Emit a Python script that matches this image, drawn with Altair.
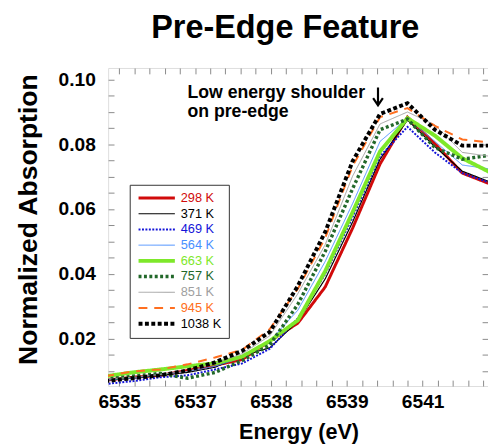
import pandas as pd
import altair as alt

# ---------------- data ----------------
series = ["298 K", "371 K", "469 K", "564 K", "663 K", "757 K", "851 K", "945 K", "1038 K"]
colors = ["#d10a0a", "#000000", "#1414d8", "#4a90ff", "#7ee82a", "#22682a", "#a0a0a0", "#ff6f20", "#000000"]
widths = [3, 1.2, 2, 1, 4, 3.5, 1, 2, 4]
dashes = [[1, 0], [1, 0], [2, 1.5], [1, 0], [1, 0], [3, 2.5], [1, 0], [9, 7], [4, 2.5]]

energy = [6535.06, 6535.53, 6536.00, 6536.47, 6536.94, 6537.41, 6537.88, 6538.36,
          6538.83, 6539.30, 6539.77, 6540.24, 6540.71, 6541.18, 6541.65]

abs_298 = [0.0071, 0.0080, 0.0086, 0.0101, 0.0117, 0.0135, 0.0192, 0.0247, 0.0359, 0.0541, 0.0739, 0.0884, 0.0802, 0.0711, 0.0678]
abs_371 = [0.0071, 0.0077, 0.0086, 0.0095, 0.0111, 0.0147, 0.0171, 0.0253, 0.0384, 0.0560, 0.0754, 0.0875, 0.0793, 0.0717, 0.0684]
abs_469 = [0.0059, 0.0068, 0.0080, 0.0086, 0.0104, 0.0123, 0.0168, 0.0262, 0.0399, 0.0575, 0.0763, 0.0854, 0.0775, 0.0711, 0.0681]
abs_564 = [0.0071, 0.0077, 0.0089, 0.0098, 0.0114, 0.0141, 0.0192, 0.0287, 0.0438, 0.0617, 0.0809, 0.0881, 0.0809, 0.0736, 0.0724]
abs_663 = [0.0083, 0.0095, 0.0104, 0.0114, 0.0123, 0.0144, 0.0192, 0.0256, 0.0408, 0.0590, 0.0778, 0.0881, 0.0827, 0.0757, 0.0714]
abs_757 = [0.0074, 0.0083, 0.0092, 0.0077, 0.0095, 0.0132, 0.0180, 0.0305, 0.0469, 0.0663, 0.0845, 0.0878, 0.0790, 0.0754, 0.0766]
abs_851 = [0.0074, 0.0080, 0.0089, 0.0098, 0.0123, 0.0153, 0.0208, 0.0338, 0.0490, 0.0702, 0.0863, 0.0900, 0.0860, 0.0775, 0.0763]
abs_945 = [0.0083, 0.0098, 0.0104, 0.0120, 0.0141, 0.0165, 0.0229, 0.0353, 0.0511, 0.0733, 0.0884, 0.0912, 0.0857, 0.0815, 0.0806]
abs_1038 = [0.0068, 0.0077, 0.0086, 0.0101, 0.0126, 0.0162, 0.0220, 0.0362, 0.0529, 0.0748, 0.0894, 0.0927, 0.0845, 0.0796, 0.0796]

x_major = [6535.3, 6536.6, 6537.9, 6539.2, 6540.5]
x_tick_labels = ["6535", "6537", "6538", "6539", "6541"]
y_major = [0.02, 0.04, 0.06, 0.08, 0.10]
y_tick_labels = ["0.02", "0.04", "0.06", "0.08", "0.10"]

note_x = [6536.47]
note_y = [0.0942]
note_text = ["Low energy shoulder\non pre-edge"]
arrow_x = [6539.735]
arrow_y = [0.0948]

x_domain = [6535.11, 6541.62]
y_domain = [0.0053, 0.1036]

# ---------------- tables ----------------
all_abs = [abs_298, abs_371, abs_469, abs_564, abs_663, abs_757, abs_851, abs_945, abs_1038]
rows = []
for s, vals in zip(series, all_abs):
    for e, v in zip(energy, vals):
        rows.append({"series": s, "energy": e, "absorption": v})
df = pd.DataFrame(rows)

# minor ticks: 5 intervals per major step
x_step = (x_major[1] - x_major[0]) / 5
x_ticks = [round(x_major[0] + x_step * j, 3) for j in range(25)]
y_ticks = [round(0.01 + 0.005 * j, 4) for j in range(19)]


def label_expr(values, labels, tol):
    expr = "''"
    for v, lab in reversed(list(zip(values, labels))):
        expr = f"abs(datum.value - {v}) < {tol} ? '{lab}' : ({expr})"
    return expr


FONT = "Liberation Sans"
TICK = 6
TICK_COLOR = "#8a8a8a"

x_axis = alt.Axis(orient="bottom", values=x_ticks, labelExpr=label_expr(x_major, x_tick_labels, 0.01),
                  tickSize=TICK, offset=-TICK, domain=False, grid=False, tickColor=TICK_COLOR,
                  labelPadding=6.5, labelFont=FONT, labelFontSize=19.5, labelFontWeight="bold",
                  labelColor="black", labelFlush=False, labelOverlap=False,
                  title="Energy (eV)", titleFont=FONT, titleFontSize=22, titleFontWeight="bold",
                  titleColor="black", titleX=194, titleY=59, titleBaseline="alphabetic", titleAlign="center")
y_axis = alt.Axis(orient="left", values=y_ticks, labelExpr=label_expr(y_major, y_tick_labels, 0.0001),
                  tickSize=TICK, offset=-TICK, domain=False, grid=False, tickColor=TICK_COLOR,
                  labelPadding=13, labelFont=FONT, labelFontSize=19.5, labelFontWeight="bold",
                  labelColor="black", labelFlush=False, labelOverlap=False,
                  title="Normalized Absorption", titleFont=FONT, titleFontSize=27, titleFontWeight="bold",
                  titleColor="black", titleX=-78.5, titleY=154, titleBaseline="alphabetic",
                  titleAlign="center", titleAngle=270)
x_axis_top = alt.Axis(orient="top", values=x_ticks, labels=False, title=None, tickSize=TICK,
                      offset=-TICK, domain=False, grid=False, tickColor=TICK_COLOR)
y_axis_right = alt.Axis(orient="right", values=y_ticks, labels=False, title=None, tickSize=TICK,
                        offset=-TICK, domain=False, grid=False, tickColor=TICK_COLOR)

legend = alt.Legend(title=None, orient="none", legendX=22, legendY=119, symbolType="stroke",
                    symbolSize=1369, clipHeight=13, rowPadding=2, padding=7, labelOffset=4,
                    labelFont=FONT, labelFontSize=13,
                    labelColor=alt.ExprRef(expr="scale('color', datum.value)"),
                    strokeColor="#333333", fillColor="white")

xs = alt.Scale(domain=x_domain, nice=False, zero=False)
ys = alt.Scale(domain=y_domain, nice=False, zero=False)

lines = alt.Chart(df).mark_line(clip=True).encode(
    x=alt.X("energy:Q", scale=xs, axis=x_axis),
    y=alt.Y("absorption:Q", scale=ys, axis=y_axis),
    color=alt.Color("series:N", scale=alt.Scale(domain=series, range=colors), legend=legend),
    strokeDash=alt.StrokeDash("series:N", scale=alt.Scale(domain=series, range=dashes), legend=legend),
    strokeWidth=alt.StrokeWidth("series:N", scale=alt.Scale(type="ordinal", domain=series, range=widths),
                                legend=legend),
)

frame = alt.Chart(df).mark_line(opacity=0, clip=True).encode(
    x=alt.X("energy:Q", axis=x_axis_top),
    y=alt.Y("absorption:Q", axis=y_axis_right),
    detail="series:N",
)

note_df = pd.DataFrame({"x": note_x, "y": note_y, "t": note_text})
note = alt.Chart(note_df).mark_text(
    align="left", baseline="alphabetic", font=FONT, fontSize=18, fontWeight="bold",
    lineBreak="\n", lineHeight=19, color="black"
).encode(x=alt.X("x:Q", axis=None), y=alt.Y("y:Q", axis=None), text="t:N")

arrow_df = pd.DataFrame({"x": arrow_x, "y": arrow_y})
arrow = alt.Chart(arrow_df).mark_point(
    shape="M0,-1L0,1M-0.55,0.2L0,1L0.55,0.2", size=324, filled=False, stroke="black",
    strokeWidth=2.2, opacity=1
).encode(x=alt.X("x:Q", axis=None), y=alt.Y("y:Q", axis=None))

chart = alt.layer(lines, frame, note, arrow).resolve_axis(
    x="independent", y="independent"
).properties(
    width=387, height=324,
    autosize=alt.AutoSizeParams(type="none"),
    padding={"left": 102, "top": 57, "right": 0, "bottom": 56},
    title=alt.TitleParams(text="Pre-Edge Feature", font=FONT, fontSize=33, fontWeight="bold",
                          anchor="middle", frame="group", dx=-13, dy=31, offset=28,
                          baseline="alphabetic", color="black"),
).configure_view(stroke="#9a9a9a", strokeWidth=1).configure(background="white")

chart.save("out.html", embed_options={"renderer": "svg", "actions": False})
